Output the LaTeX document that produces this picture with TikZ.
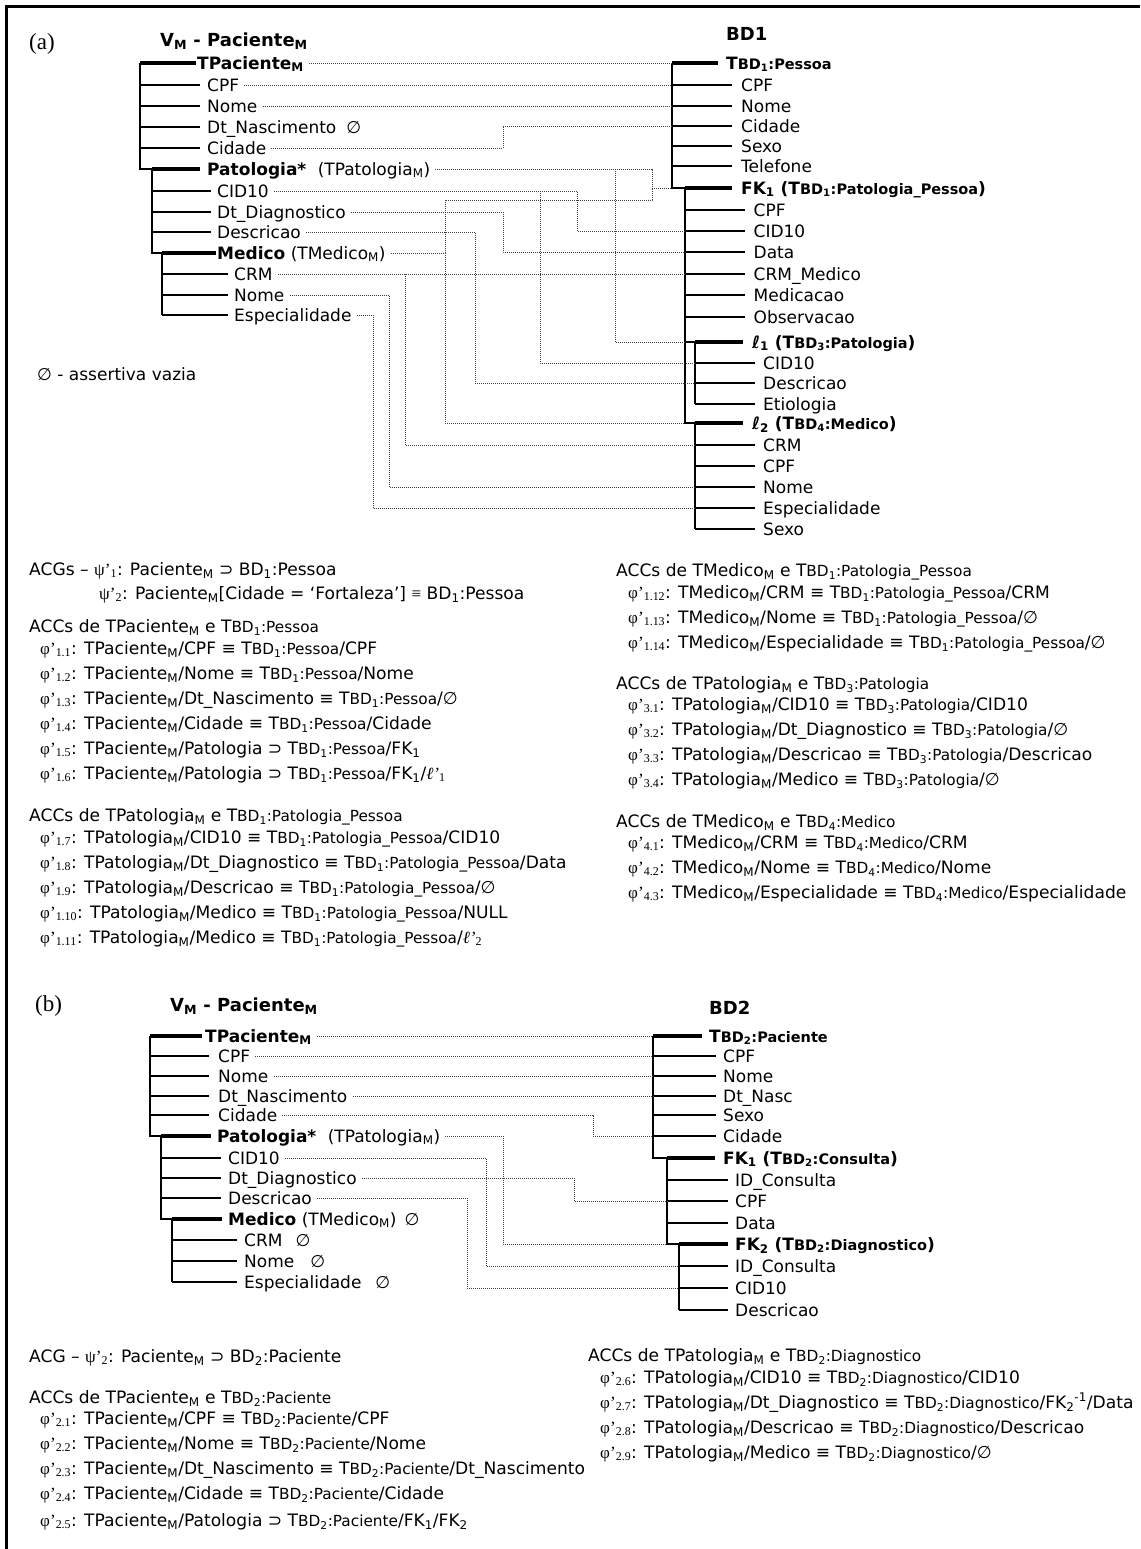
\documentclass[tikz,border=0pt]{standalone}
\usepackage{fontspec}
\setmainfont{DejaVu Sans}
\newfontfamily\grk{Liberation Serif}
\usetikzlibrary{calc}

% table references such as T_{BD1:Pessoa}
\newcommand\smt[1]{{\fontsize{15.3}{17}\selectfont #1}}
\newcommand\smb[1]{{\fontsize{14.5}{16}\selectfont #1}}
\newcommand\Tf[2]{T\smt{BD\textsubscript{#1}:#2}}
\newcommand\Tb[2]{T\smb{BD\textsubscript{#1}:#2}}
\newcommand\fii[1]{{\grk φ’}\textsubscript{\grk #1}}
\newcommand\psii[1]{{\grk ψ’}\textsubscript{\grk #1}}
\newcommand\ellp[1]{{\grk\itshape ℓ’}\textsubscript{\grk #1}}
\newcommand\Ms{\textsubscript{M}}

\begin{document}
\begin{tikzpicture}[x=1pt,y=-1pt,
  txt/.style={anchor=west,inner sep=0pt,text height=13pt,text depth=0.5pt,font=\fontsize{17}{20}\selectfont},
  bold/.style={txt,font=\fontsize{17}{20}\selectfont\bfseries},
  fml/.style={txt,font=\fontsize{17.1}{20}\selectfont},
  hdr/.style={txt,font=\fontsize{18}{21}\selectfont\bfseries},
  tag/.style={txt,font=\fontsize{23}{25}\selectfont\grk},
  twig/.style={line width=1.8pt},
  trunk/.style={line width=2.2pt},
  head/.style={line width=3.4pt},
  link/.style={line width=0.8pt,dash pattern=on 0.8pt off 1.2pt,black!75},
]
\useasboundingbox (0,0) rectangle (1140,1549);
\draw[line width=2.8pt] (6.5,1549) -- (6.5,6.5) -- (1140,6.5);

% ================= (a) =================
\node[tag] (tagA) at (29,43) {(a)};
\node[hdr] (vmA) at (160,40) {V\Ms{} - Paciente\Ms};
\node[hdr] (bd1) at (726,34) {BD1};

% view tree
\coordinate (aR) at (140,63);
\coordinate (aP) at (152,169);
\coordinate (aM) at (162,253);
\node[bold] (aTP) at (197,63) {TPaciente\Ms};
\node[txt] (aCPF) at (207,85) {CPF};
\node[txt] (aNome) at (207,106) {Nome};
\node[txt] (aDtN) at (207,127) {Dt\_Nascimento\hspace{10pt}∅};
\node[txt] (aCid) at (207,148) {Cidade};
\node[txt] (aPat) at (207,169) {\textbf{Patologia*}\hspace{6pt} (TPatologia\Ms)};
\node[txt] (aCID) at (217,191) {CID10};
\node[txt] (aDtD) at (217,212) {Dt\_Diagnostico};
\node[txt] (aDes) at (217,232) {Descricao};
\node[txt] (aMed) at (217,253) {\textbf{Medico} (TMedico\Ms)};
\node[txt] (aCRM) at (234,274) {CRM};
\node[txt] (aNom2) at (234,295) {Nome};
\node[txt] (aEsp) at (234,315) {Especialidade};

\draw[trunk] (aR) -- (aR |- aPat) -- (aP);
\draw[trunk] (aP) -- (aP |- aMed) -- (aM);
\draw[trunk] (aM) -- (aM |- aEsp);
\draw[head] (aR) -- ([xshift=-1pt]aTP.west);
\foreach \n in {aCPF,aNome,aDtN,aCid} \draw[twig] (\n -| aR) -- ([xshift=-7pt]\n.west);
\draw[head] (aP) -- ([xshift=-7pt]aPat.west);
\foreach \n in {aCID,aDtD,aDes} \draw[twig] (\n -| aP) -- ([xshift=-6pt]\n.west);
\draw[head] (aM) -- ([xshift=-1.5pt]aMed.west);
\foreach \n in {aCRM,aNom2,aEsp} \draw[twig] (\n -| aM) -- ([xshift=-6.5pt]\n.west);

\node[txt] (legend) at (37,374) {∅ - assertiva vazia};

% source tree BD1
\coordinate (bR) at (672,63);
\coordinate (bF) at (685,188);
\coordinate (bL1) at (695,342);
\coordinate (bL2) at (695,423);
\node[bold] (bTP) at (726,63) {\Tb{1}{Pessoa}};
\node[txt] (bCPF) at (741,85) {CPF};
\node[txt] (bNome) at (741,106) {Nome};
\node[txt] (bCid) at (741,126) {Cidade};
\node[txt] (bSexo) at (741,146) {Sexo};
\node[txt] (bTel) at (741,166) {Telefone};
\node[bold] (bFK) at (741,188) {FK\textsubscript{1} (\Tb{1}{Patologia\_Pessoa})};
\node[txt] (bCPF2) at (753.5,210) {CPF};
\node[txt] (bCID) at (753.5,231) {CID10};
\node[txt] (bData) at (753.5,252) {Data};
\node[txt] (bCRM) at (753.5,274) {CRM\_Medico};
\node[txt] (bMedc) at (753.5,295) {Medicacao};
\node[txt] (bObs) at (753.5,317) {Observacao};
\node[bold] (bL1n) at (752,342) {ℓ\textsubscript{1} (\Tb{3}{Patologia})};
\node[txt] (bCID3) at (763,363) {CID10};
\node[txt] (bDes3) at (763,383) {Descricao};
\node[txt] (bEti) at (763,404) {Etiologia};
\node[bold] (bL2n) at (752,423) {ℓ\textsubscript{2} (\Tb{4}{Medico})};
\node[txt] (bCRM4) at (763,445) {CRM};
\node[txt] (bCPF4) at (763,466) {CPF};
\node[txt] (bNom4) at (763,487) {Nome};
\node[txt] (bEsp4) at (763,508) {Especialidade};
\node[txt] (bSex4) at (763,529) {Sexo};

\draw[trunk] (bR) -- (bR |- bFK) -- (bF);
\draw[trunk] (bF) -- (bF |- bL2n) -- (bL2);
\draw[trunk] (bF |- bL1n) -- (bL1);
\draw[trunk] (bL1) -- (bL1 |- bEti);
\draw[trunk] (bL2) -- (bL2 |- bSex4);
\draw[head] (bR) -- ([xshift=-8pt]bTP.west);
\foreach \n in {bCPF,bNome,bCid,bSexo,bTel} \draw[twig] (\n -| bR) -- ([xshift=-9pt]\n.west);
\draw[head] (bF) -- ([xshift=-9pt]bFK.west);
\foreach \n in {bCPF2,bCID,bData,bCRM,bMedc,bObs} \draw[twig] (\n -| bF) -- ([xshift=-8.5pt]\n.west);
\draw[head] (bL1) -- ([xshift=-9pt]bL1n.west);
\foreach \n in {bCID3,bDes3,bEti} \draw[twig] (\n -| bL1) -- ([xshift=-8pt]\n.west);
\draw[head] (bL2) -- ([xshift=-9pt]bL2n.west);
\foreach \n in {bCRM4,bCPF4,bNom4,bEsp4,bSex4} \draw[twig] (\n -| bL2) -- ([xshift=-8pt]\n.west);

% correspondences (a)
\coordinate (kCid) at (503,0);
\coordinate (kPat) at (652,0);
\coordinate (kL1) at (615,0);
\coordinate (kMedTop) at (445,200);
\coordinate (kCID) at (577,0);
\coordinate (kCID3) at (540,0);
\coordinate (kDes) at (475,0);
\coordinate (kCRM) at (405,0);
\coordinate (kNom) at (389,0);
\coordinate (kEsp) at (373,0);

\draw[link] ([xshift=5pt]aTP.east) -- (bTP -| bR);
\draw[link] ([xshift=5pt]aCPF.east) -- (bCPF -| bR);
\draw[link] ([xshift=5pt]aNome.east) -- (bNome -| bR);
\draw[link] ([xshift=5pt]aCid.east) -| (bCid -| kCid) -- (bCid -| bR);
\draw[link] ([xshift=5pt]aPat.east) -| (bFK -| kPat) -- (bFK -| bR);
\draw[link] (aPat -| kL1) |- (bL1n -| bF);
\draw[link] ([xshift=5pt]aMed.east) -| (kMedTop) -| (bFK -| kPat);
\draw[link] (aMed -| kMedTop) |- (bL2n -| bF);
\draw[link] ([xshift=5pt]aCID.east) -| (bCID -| kCID) -- (bCID -| bF);
\draw[link] (aCID -| kCID3) |- (bCID3 -| bL1);
\draw[link] ([xshift=5pt]aDtD.east) -| (bData -| kCid) -- (bData -| bF);
\draw[link] ([xshift=5pt]aDes.east) -| (bDes3 -| kDes) -- (bDes3 -| bL1);
\draw[link] ([xshift=5pt]aCRM.east) -- (bCRM -| bF);
\draw[link] (aCRM -| kCRM) |- (bCRM4 -| bL2);
\draw[link] ([xshift=5pt]aNom2.east) -| (bNom4 -| kNom) -- (bNom4 -| bL2);
\draw[link] ([xshift=5pt]aEsp.east) -| (bEsp4 -| kEsp) -- (bEsp4 -| bL2);

% assertions (a), left column
\node[fml] (g1) at (29,569) {ACGs – \psii{1}: Paciente\Ms{} ⊃ BD\textsubscript{1}:Pessoa};
\node[fml] (g2) at (99,593) {\psii{2}: Paciente\Ms[Cidade = ‘Fortaleza’] {\grk ≡} BD\textsubscript{1}:Pessoa};
\node[fml] (h1) at (29,626) {ACCs de TPaciente\Ms{} e \Tf{1}{Pessoa}};
\node[fml] (p11) at (40,648) {\fii{1.1}: TPaciente\Ms/CPF ≡ \Tf{1}{Pessoa}/CPF};
\node[fml] (p12) at (40,673) {\fii{1.2}: TPaciente\Ms/Nome ≡ \Tf{1}{Pessoa}/Nome};
\node[fml] (p13) at (40,698) {\fii{1.3}: TPaciente\Ms/Dt\_Nascimento ≡ \Tf{1}{Pessoa}/∅};
\node[fml] (p14) at (40,723) {\fii{1.4}: TPaciente\Ms/Cidade ≡ \Tf{1}{Pessoa}/Cidade};
\node[fml] (p15) at (40,748) {\fii{1.5}: TPaciente\Ms/Patologia ⊃ \Tf{1}{Pessoa}/FK\textsubscript{1}};
\node[fml] (p16) at (40,773) {\fii{1.6}: TPaciente\Ms/Patologia ⊃ \Tf{1}{Pessoa}/FK\textsubscript{1}/\ellp{1}};
\node[fml] (h2) at (29,815) {ACCs de TPatologia\Ms{} e \Tf{1}{Patologia\_Pessoa}};
\node[fml] (p17) at (40,837) {\fii{1.7}: TPatologia\Ms/CID10 ≡ \Tf{1}{Patologia\_Pessoa}/CID10};
\node[fml] (p18) at (40,862) {\fii{1.8}: TPatologia\Ms/Dt\_Diagnostico ≡ \Tf{1}{Patologia\_Pessoa}/Data};
\node[fml] (p19) at (40,887) {\fii{1.9}: TPatologia\Ms/Descricao ≡ \Tf{1}{Patologia\_Pessoa}/∅};
\node[fml] (p110) at (40,912) {\fii{1.10}: TPatologia\Ms/Medico ≡ \Tf{1}{Patologia\_Pessoa}/NULL};
\node[fml] (p111) at (40,937) {\fii{1.11}: TPatologia\Ms/Medico ≡ \Tf{1}{Patologia\_Pessoa}/\ellp{2}};

% assertions (a), right column
\node[fml] (h3) at (616,570) {ACCs de TMedico\Ms{} e \Tf{1}{Patologia\_Pessoa}};
\node[fml] (p112) at (628,592) {\fii{1.12}: TMedico\Ms/CRM ≡ \Tf{1}{Patologia\_Pessoa}/CRM};
\node[fml] (p113) at (628,617) {\fii{1.13}: TMedico\Ms/Nome ≡ \Tf{1}{Patologia\_Pessoa}/∅};
\node[fml] (p114) at (628,642) {\fii{1.14}: TMedico\Ms/Especialidade ≡ \Tf{1}{Patologia\_Pessoa}/∅};
\node[fml] (h4) at (616,683) {ACCs de TPatologia\Ms{} e \Tf{3}{Patologia}};
\node[fml] (p31) at (628,704) {\fii{3.1}: TPatologia\Ms/CID10 ≡ \Tf{3}{Patologia}/CID10};
\node[fml] (p32) at (628,729) {\fii{3.2}: TPatologia\Ms/Dt\_Diagnostico ≡ \Tf{3}{Patologia}/∅};
\node[fml] (p33) at (628,754) {\fii{3.3}: TPatologia\Ms/Descricao ≡ \Tf{3}{Patologia}/Descricao};
\node[fml] (p34) at (628,779) {\fii{3.4}: TPatologia\Ms/Medico ≡ \Tf{3}{Patologia}/∅};
\node[fml] (h5) at (616,821) {ACCs de TMedico\Ms{} e \Tf{4}{Medico}};
\node[fml] (p41) at (628,842) {\fii{4.1}: TMedico\Ms/CRM ≡ \Tf{4}{Medico}/CRM};
\node[fml] (p42) at (628,867) {\fii{4.2}: TMedico\Ms/Nome ≡ \Tf{4}{Medico}/Nome};
\node[fml] (p43) at (628,892) {\fii{4.3}: TMedico\Ms/Especialidade ≡ \Tf{4}{Medico}/Especialidade};

% ================= (b) =================
\node[tag] (tagB) at (35,1005) {(b)};
\node[hdr] (vmB) at (170,1005) {V\Ms{} - Paciente\Ms};
\node[hdr] (bd2) at (709,1008) {BD2};

\coordinate (cR) at (150,1036);
\coordinate (cP) at (161,1136);
\coordinate (cM) at (172,1219);
\node[bold] (cTP) at (205,1036) {TPaciente\Ms};
\node[txt] (cCPF) at (218,1056) {CPF};
\node[txt] (cNome) at (218,1076) {Nome};
\node[txt] (cDtN) at (218,1096) {Dt\_Nascimento};
\node[txt] (cCid) at (218,1115) {Cidade};
\node[txt] (cPat) at (217,1136) {\textbf{Patologia*}\hspace{6pt} (TPatologia\Ms)};
\node[txt] (cCID) at (228,1158) {CID10};
\node[txt] (cDtD) at (228,1178) {Dt\_Diagnostico};
\node[txt] (cDes) at (228,1198) {Descricao};
\node[txt] (cMed) at (228,1219) {\textbf{Medico} (TMedico\Ms)\hspace{8pt}∅};
\node[txt] (cCRM) at (244,1240) {CRM\hspace{13pt}∅};
\node[txt] (cNom2) at (244,1261) {Nome\hspace{16pt}∅};
\node[txt] (cEsp) at (244,1282) {Especialidade\hspace{14pt}∅};

\draw[trunk] (cR) -- (cR |- cPat) -- (cP);
\draw[trunk] (cP) -- (cP |- cMed) -- (cM);
\draw[trunk] (cM) -- (cM |- cEsp);
\draw[head] (cR) -- ([xshift=-3.5pt]cTP.west);
\foreach \n in {cCPF,cNome,cDtN,cCid} \draw[twig] (\n -| cR) -- ([xshift=-9pt]\n.west);
\draw[head] (cP) -- ([xshift=-6.5pt]cPat.west);
\foreach \n in {cCID,cDtD,cDes} \draw[twig] (\n -| cP) -- ([xshift=-7pt]\n.west);
\draw[head] (cM) -- ([xshift=-6pt]cMed.west);
\foreach \n in {cCRM,cNom2,cEsp} \draw[twig] (\n -| cM) -- ([xshift=-7pt]\n.west);

\coordinate (dR) at (653,1036);
\coordinate (dF1) at (667,1158);
\coordinate (dF2) at (679,1244);
\node[bold] (dTP) at (709,1036) {\Tb{2}{Paciente}};
\node[txt] (dCPF) at (723,1056) {CPF};
\node[txt] (dNome) at (723,1076) {Nome};
\node[txt] (dDtN) at (723,1096) {Dt\_Nasc};
\node[txt] (dSexo) at (723,1115) {Sexo};
\node[txt] (dCid) at (723,1136) {Cidade};
\node[bold] (dFK1) at (723,1158) {FK\textsubscript{1} (\Tb{2}{Consulta})};
\node[txt] (dID) at (735,1180) {ID\_Consulta};
\node[txt] (dCPF2) at (735,1201) {CPF};
\node[txt] (dData) at (735,1223) {Data};
\node[bold] (dFK2) at (735,1244) {FK\textsubscript{2} (\Tb{2}{Diagnostico})};
\node[txt] (dID2) at (735,1266) {ID\_Consulta};
\node[txt] (dCID) at (735,1288) {CID10};
\node[txt] (dDes) at (735,1310) {Descricao};

\draw[trunk] (dR) -- (dR |- dFK1) -- (dF1);
\draw[trunk] (dF1) -- (dF1 |- dFK2) -- (dF2);
\draw[trunk] (dF2) -- (dF2 |- dDes);
\draw[head] (dR) -- ([xshift=-7pt]dTP.west);
\foreach \n in {dCPF,dNome,dDtN,dSexo,dCid} \draw[twig] (\n -| dR) -- ([xshift=-7pt]\n.west);
\draw[head] (dF1) -- ([xshift=-8pt]dFK1.west);
\foreach \n in {dID,dCPF2,dData} \draw[twig] (\n -| dF1) -- ([xshift=-7pt]\n.west);
\draw[head] (dF2) -- ([xshift=-7pt]dFK2.west);
\foreach \n in {dID2,dCID,dDes} \draw[twig] (\n -| dF2) -- ([xshift=-7pt]\n.west);

% correspondences (b)
\coordinate (kbCid) at (593,0);
\coordinate (kbPat) at (503,0);
\coordinate (kbCID) at (486,0);
\coordinate (kbDtD) at (574,0);
\coordinate (kbDes) at (467,0);
\draw[link] ([xshift=5pt]cTP.east) -- (dTP -| dR);
\draw[link] ([xshift=5pt]cCPF.east) -- (dCPF -| dR);
\draw[link] ([xshift=5pt]cNome.east) -- (dNome -| dR);
\draw[link] ([xshift=5pt]cDtN.east) -- (dDtN -| dR);
\draw[link] ([xshift=5pt]cCid.east) -| (dCid -| kbCid) -- (dCid -| dR);
\draw[link] ([xshift=5pt]cPat.east) -| (dFK2 -| kbPat) -- (dFK2 -| dF1);
\draw[link] ([xshift=5pt]cCID.east) -| (dID2 -| kbCID) -- (dID2 -| dF2);
\draw[link] ([xshift=5pt]cDtD.east) -| (dCPF2 -| kbDtD) -- (dCPF2 -| dF1);
\draw[link] ([xshift=5pt]cDes.east) -| (dCID -| kbDes) -- (dCID -| dF2);

% assertions (b)
\node[fml] (g3) at (29,1356) {ACG – \psii{2}: Paciente\Ms{} ⊃ BD\textsubscript{2}:Paciente};
\node[fml] (h6) at (29,1397) {ACCs de TPaciente\Ms{} e \Tf{2}{Paciente}};
\node[fml] (p21) at (40,1418) {\fii{2.1}: TPaciente\Ms/CPF ≡ \Tf{2}{Paciente}/CPF};
\node[fml] (p22) at (40,1443) {\fii{2.2}: TPaciente\Ms/Nome ≡ \Tf{2}{Paciente}/Nome};
\node[fml] (p23) at (40,1468) {\fii{2.3}: TPaciente\Ms/Dt\_Nascimento ≡ \Tf{2}{Paciente}/Dt\_Nascimento};
\node[fml] (p24) at (40,1493) {\fii{2.4}: TPaciente\Ms/Cidade ≡ \Tf{2}{Paciente}/Cidade};
\node[fml] (p25) at (40,1520) {\fii{2.5}: TPaciente\Ms/Patologia ⊃ \Tf{2}{Paciente}/FK\textsubscript{1}/FK\textsubscript{2}};

\node[fml] (h7) at (588,1355) {ACCs de TPatologia\Ms{} e \Tf{2}{Diagnostico}};
\node[fml] (p26) at (600,1377) {\fii{2.6}: TPatologia\Ms/CID10 ≡ \Tf{2}{Diagnostico}/CID10};
\node[fml] (p27) at (600,1402) {\fii{2.7}: TPatologia\Ms/Dt\_Diagnostico ≡ \Tf{2}{Diagnostico}/FK\textsubscript{2}\textsuperscript{-1}/Data};
\node[fml] (p28) at (600,1427) {\fii{2.8}: TPatologia\Ms/Descricao ≡ \Tf{2}{Diagnostico}/Descricao};
\node[fml] (p29) at (600,1452) {\fii{2.9}: TPatologia\Ms/Medico ≡ \Tf{2}{Diagnostico}/∅};
\end{tikzpicture}
\end{document}
